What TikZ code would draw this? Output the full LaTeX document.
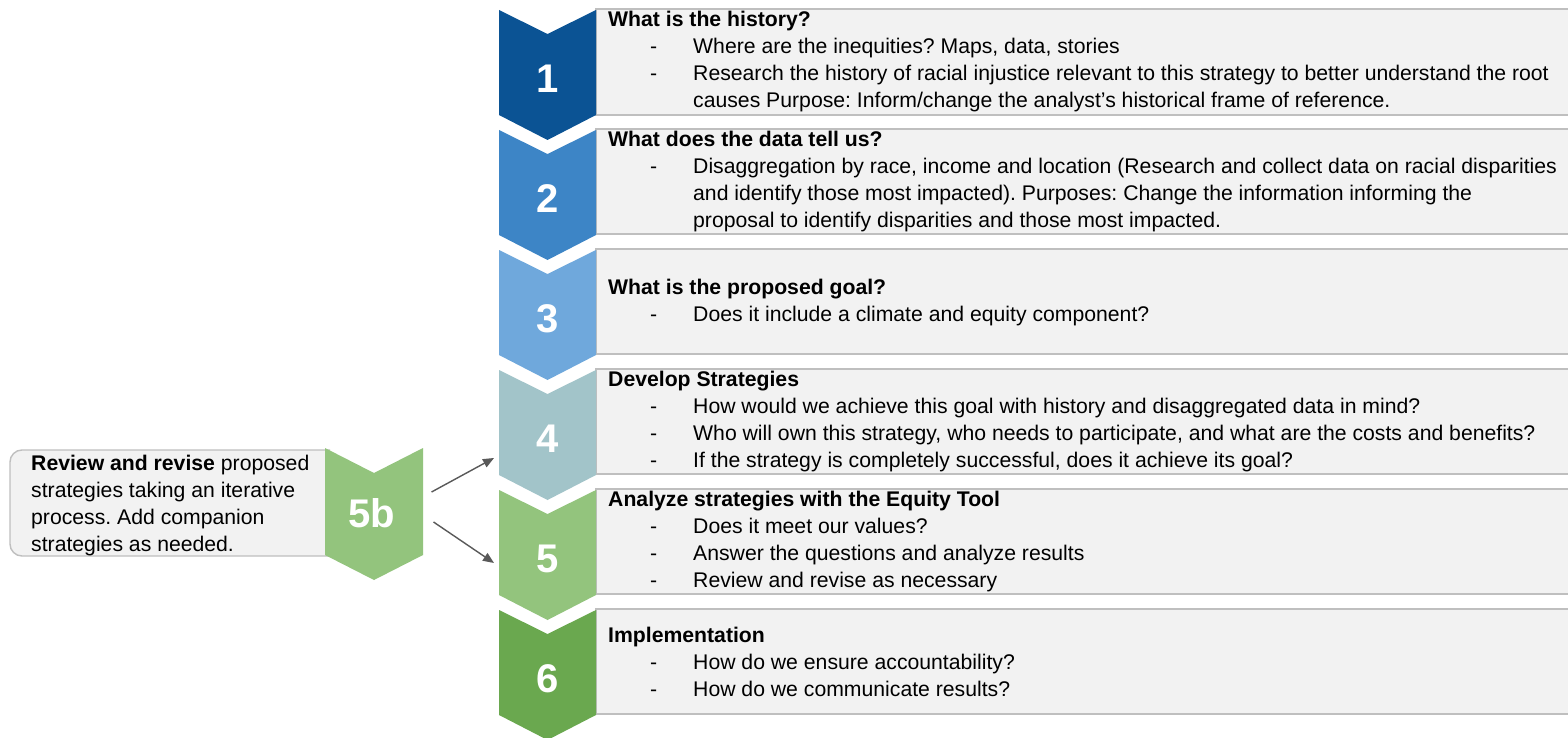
\documentclass[tikz,border=0pt]{standalone}
\usepackage{fontspec}
\setmainfont{Liberation Sans}
\usetikzlibrary{arrows.meta}
\definecolor{stepA}{HTML}{0B5394}
\definecolor{stepB}{HTML}{3D85C6}
\definecolor{stepC}{HTML}{6FA8DC}
\definecolor{stepD}{HTML}{A2C4C9}
\definecolor{stepE}{HTML}{93C47D}
\definecolor{stepF}{HTML}{6AA84F}
\definecolor{boxfill}{HTML}{F2F2F2}
\definecolor{boxline}{HTML}{BFBFBF}
\definecolor{arrowgray}{HTML}{595959}
\newcommand{\itm}[1]{\makebox[85pt][l]{\hspace*{42pt}-}#1}
\newcommand{\cnt}[1]{\hspace*{85pt}#1}
\frenchspacing
\tikzset{
  infobox/.style={draw=boxline, fill=boxfill, line width=1.4pt},
  infotext/.style={anchor=west, align=left, inner sep=0pt, text=black,
    font=\fontsize{21.2}{27}\selectfont},
  stepnum/.style={text=white, inner sep=0pt, font=\fontsize{40}{40}\selectfont\bfseries},
  linkarrow/.style={draw=arrowgray, line width=1.4pt,
    -{Triangle[length=11pt,width=9pt]}}
}
\begin{document}
\begin{tikzpicture}[x=1pt,y=-1pt]
        \useasboundingbox (0,0) rectangle (1568,738);
        \fill[white] (0,0) rectangle (1568,738);
        \draw [infobox] (596,9) rectangle (1580,115);
        \draw [infobox] (596,129) rectangle (1580,234);
        \draw [infobox] (596,249) rectangle (1580,354);
        \draw [infobox] (596,369) rectangle (1580,474);
        \draw [infobox] (596,489) rectangle (1580,594);
        \draw [infobox] (596,609) rectangle (1580,714);
        \fill [stepA] (499,10) -- ++(48.5,24) -- ++(48.5,-24) -- ++(0,105) -- ++(-48.5,25) -- ++(-48.5,-25) -- cycle;
        \fill [stepB] (499,130) -- ++(48.5,24) -- ++(48.5,-24) -- ++(0,105) -- ++(-48.5,25) -- ++(-48.5,-25) -- cycle;
        \fill [stepC] (499,250) -- ++(48.5,24) -- ++(48.5,-24) -- ++(0,105) -- ++(-48.5,25) -- ++(-48.5,-25) -- cycle;
        \fill [stepD] (499,370) -- ++(48.5,24) -- ++(48.5,-24) -- ++(0,105) -- ++(-48.5,25) -- ++(-48.5,-25) -- cycle;
        \fill [stepE] (499,490) -- ++(48.5,24) -- ++(48.5,-24) -- ++(0,105) -- ++(-48.5,25) -- ++(-48.5,-25) -- cycle;
        \fill [stepF] (499,610) -- ++(48.5,24) -- ++(48.5,-24) -- ++(0,105) -- ++(-48.5,25) -- ++(-48.5,-25) -- cycle;
        \node [stepnum] (n1) at (547.5,79) {1};
        \node [stepnum] (n2) at (547.5,199) {2};
        \node [stepnum] (n3) at (547.5,319) {3};
        \node [stepnum] (n4) at (547.5,439) {4};
        \node [stepnum] (n5) at (547.5,559) {5};
        \node [stepnum] (n6) at (547.5,679) {6};
        % side step
        \draw [infobox, rounded corners=12pt] (330,450) -- (10,450) -- (10,556) -- (330,556);
        \fill [stepE] (325,448) -- ++(49,25) -- ++(49,-25) -- ++(0,107) -- ++(-49,25) -- ++(-49,-25) -- cycle;
        \node [stepnum] (n5b) at (372,513) {5b};
        \node [infotext] (t5b) at (31,506) {\textbf{Review and revise} proposed\\strategies taking an iterative\\process. Add companion\\strategies as needed.};
        \coordinate (in4) at (494,458);
        \coordinate (in5) at (494,563);
        \draw [linkarrow] ([shift={(36,-21)}]n5b.east) -- (in4);
        \draw [linkarrow] ([shift={(38,9)}]n5b.east) -- (in5);
        \node [infotext] (t1) at (608,62) {\textbf{What is the history?}\\
          \itm{Where are the inequities? Maps, data, stories}\\
          \itm{Research the history of racial injustice relevant to this strategy to better understand the root}\\
          \cnt{causes Purpose: Inform/change the analyst’s historical frame of reference.}};
        \node [infotext] (t2) at (608,182) {\textbf{What does the data tell us?}\\
          \itm{Disaggregation by race, income and location (Research and collect data on racial disparities}\\
          \cnt{and identify those most impacted). Purposes: Change the information informing the}\\
          \cnt{proposal to identify disparities and those most impacted.}};
        \node [infotext] (t3) at (608,303) {\textbf{What is the proposed goal?}\\
          \itm{Does it include a climate and equity component?}};
        \node [infotext] (t4) at (608,422) {\textbf{Develop Strategies}\\
          \itm{How would we achieve this goal with history and disaggregated data in mind?}\\
          \itm{Who will own this strategy, who needs to participate, and what are the costs and benefits?}\\
          \itm{If the strategy is completely successful, does it achieve its goal?}};
        \node [infotext] (t5) at (608,542) {\textbf{Analyze strategies with the Equity Tool}\\
          \itm{Does it meet our values?}\\
          \itm{Answer the questions and analyze results}\\
          \itm{Review and revise as necessary}};
        \node [infotext] (t6) at (608,662) {\textbf{Implementation}\\
          \itm{How do we ensure accountability?}\\
          \itm{How do we communicate results?}};
    \end{tikzpicture}
\end{document}
